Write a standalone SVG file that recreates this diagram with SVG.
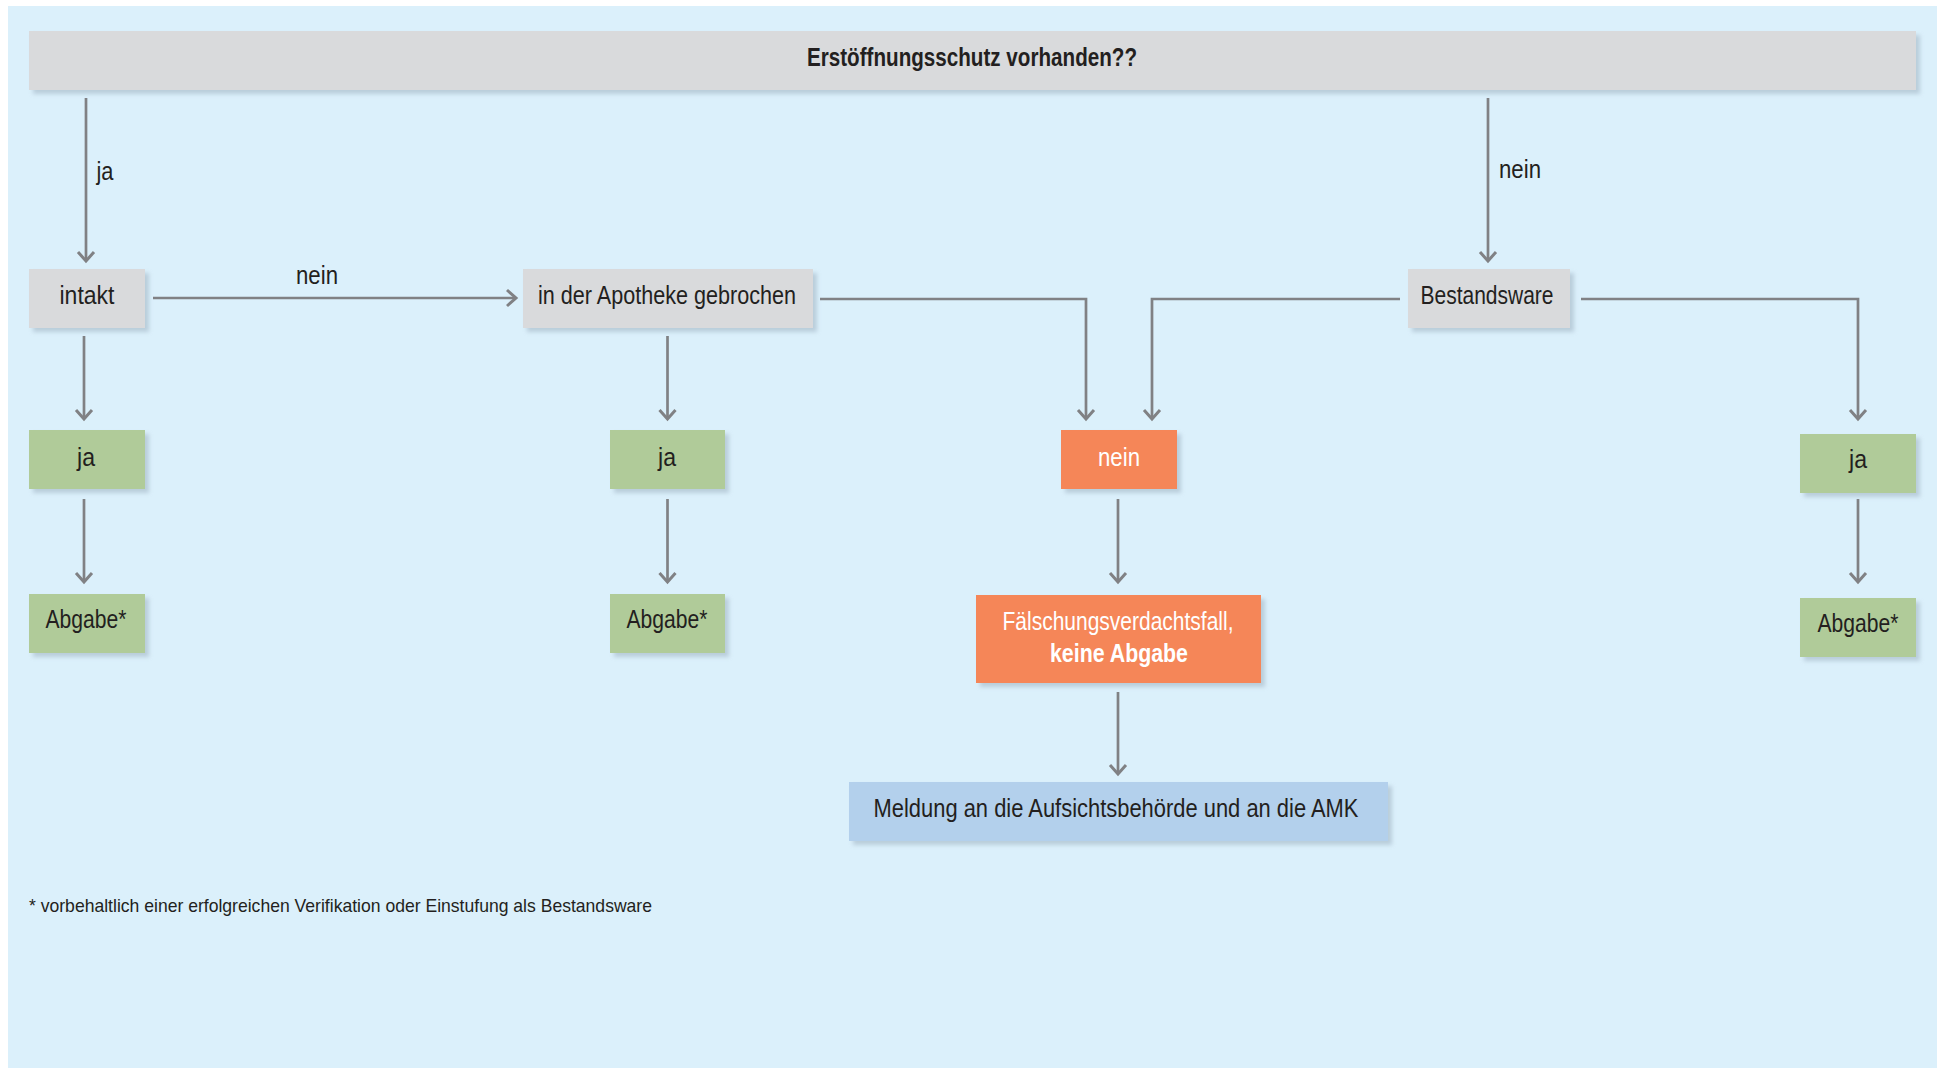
<svg xmlns="http://www.w3.org/2000/svg" width="1940" height="1071" viewBox="0 0 1940 1071">
<defs>
<filter id="sh" x="-10%" y="-20%" width="130%" height="160%">
<feDropShadow dx="4" dy="4" stdDeviation="2" flood-color="#8fa3b3" flood-opacity="0.45"/>
</filter>
<marker id="arr" viewBox="-14 -12 18 24" markerWidth="18" markerHeight="24" refX="0" refY="0" orient="auto" markerUnits="userSpaceOnUse" overflow="visible">
<path d="M-9,-8 L0,0 L-9,8" fill="none" stroke="#808184" stroke-width="3"/>
</marker>
<style>
.t{font-family:"Liberation Sans","DejaVu Sans",Arial,sans-serif;font-size:26px;fill:#231f20;text-anchor:middle;}
.b{font-weight:bold;}
.w{fill:#ffffff;}
.gray{fill:#d9dadc;filter:url(#sh);}
.green{fill:#b0cb99;filter:url(#sh);}
.orange{fill:#f58659;filter:url(#sh);}
.blue{fill:#b3d0ec;filter:url(#sh);}
.c{fill:none;stroke:#808184;stroke-width:2.7;marker-end:url(#arr);}
</style>
</defs>
<rect x="0" y="0" width="1940" height="1071" fill="#ffffff"/>
<rect x="8" y="6" width="1929" height="1062" fill="#dbf0fb"/>

<g id="connectors">
<path class="c" d="M86,98 V261"/>
<path class="c" d="M1488,98 V261"/>
<path class="c" d="M153,298 H516"/>
<path class="c" d="M84,336 V419"/>
<path class="c" d="M84,499 V582"/>
<path class="c" d="M667.5,336 V419"/>
<path class="c" d="M667.5,499 V582"/>
<path class="c" d="M820,299 H1086 V419"/>
<path class="c" d="M1400,299 H1152 V419"/>
<path class="c" d="M1581,299 H1858 V419"/>
<path class="c" d="M1858,499 V582"/>
<path class="c" d="M1118,499 V582"/>
<path class="c" d="M1118,692 V774"/>
<text class="t" x="105" y="180" textLength="17" lengthAdjust="spacingAndGlyphs">ja</text>
<text class="t" x="317" y="284" textLength="42" lengthAdjust="spacingAndGlyphs">nein</text>
<text class="t" x="1520" y="178" textLength="42" lengthAdjust="spacingAndGlyphs">nein</text>
</g>

<g id="n-top">
<rect class="gray" x="29" y="31" width="1887" height="59"/>
<text class="t b" x="972" y="66" textLength="330" lengthAdjust="spacingAndGlyphs">Erstöffnungsschutz vorhanden??</text>
</g>
<g id="n-intakt">
<rect class="gray" x="29" y="269" width="116" height="59"/>
<text class="t" x="87" y="304" textLength="55" lengthAdjust="spacingAndGlyphs">intakt</text>
</g>
<g id="n-apotheke">
<rect class="gray" x="523" y="269" width="290" height="59"/>
<text class="t" x="667" y="304" textLength="258" lengthAdjust="spacingAndGlyphs">in der Apotheke gebrochen</text>
</g>
<g id="n-bestand">
<rect class="gray" x="1408" y="269" width="162" height="59"/>
<text class="t" x="1487" y="304" textLength="133" lengthAdjust="spacingAndGlyphs">Bestandsware</text>
</g>
<g id="n-ja1">
<rect class="green" x="29" y="430" width="116" height="59"/>
<text class="t" x="86" y="466" textLength="18" lengthAdjust="spacingAndGlyphs">ja</text>
</g>
<g id="n-ja2">
<rect class="green" x="610" y="430" width="115" height="59"/>
<text class="t" x="667" y="466" textLength="18" lengthAdjust="spacingAndGlyphs">ja</text>
</g>
<g id="n-nein">
<rect class="orange" x="1061" y="430" width="116" height="59"/>
<text class="t w" x="1119" y="466" textLength="42" lengthAdjust="spacingAndGlyphs">nein</text>
</g>
<g id="n-ja3">
<rect class="green" x="1800" y="434" width="116" height="59"/>
<text class="t" x="1858" y="468" textLength="18" lengthAdjust="spacingAndGlyphs">ja</text>
</g>
<g id="n-abgabe1">
<rect class="green" x="29" y="594" width="116" height="59"/>
<text class="t" x="86" y="628" textLength="81" lengthAdjust="spacingAndGlyphs">Abgabe*</text>
</g>
<g id="n-abgabe2">
<rect class="green" x="610" y="594" width="115" height="59"/>
<text class="t" x="667" y="628" textLength="81" lengthAdjust="spacingAndGlyphs">Abgabe*</text>
</g>
<g id="n-abgabe3">
<rect class="green" x="1800" y="598" width="116" height="59"/>
<text class="t" x="1858" y="632" textLength="81" lengthAdjust="spacingAndGlyphs">Abgabe*</text>
</g>
<g id="n-faelschung">
<rect class="orange" x="976" y="595" width="285" height="88"/>
<text class="t w" x="1118" y="630" textLength="231" lengthAdjust="spacingAndGlyphs">Fälschungsverdachtsfall,</text>
<text class="t w b" x="1119" y="662" textLength="138" lengthAdjust="spacingAndGlyphs">keine Abgabe</text>
</g>
<g id="n-meldung">
<rect class="blue" x="849" y="782" width="539" height="59"/>
<text class="t" x="1116" y="817" textLength="485" lengthAdjust="spacingAndGlyphs">Meldung an die Aufsichtsbehörde und an die AMK</text>
</g>
<g id="footnote">
<text class="t" x="29" y="912" style="font-size:19px;text-anchor:start" textLength="623" lengthAdjust="spacingAndGlyphs">* vorbehaltlich einer erfolgreichen Verifikation oder Einstufung als Bestandsware</text>
</g>
</svg>
